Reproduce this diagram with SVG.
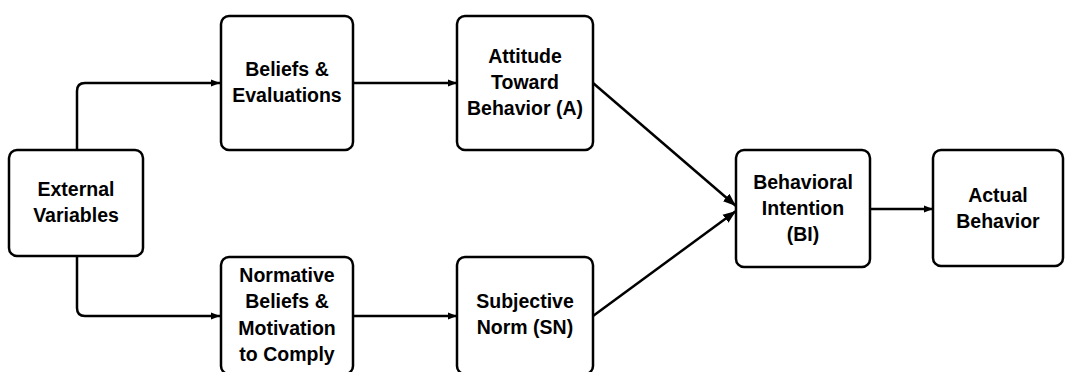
<svg xmlns="http://www.w3.org/2000/svg" width="1066" height="372" viewBox="0 0 1066 372">
  <style>
    .box { fill: #ffffff; stroke: #000000; stroke-width: 2.5; }
    .lbl { font-family: "Liberation Sans", Arial, Helvetica, sans-serif; font-size: 19.5px; font-weight: bold; fill: #000000; text-anchor: middle; }
    .edge { fill: none; stroke: #000000; stroke-width: 2.5; }
    .small { marker-end: url(#arrowSmall); }
    .big { marker-end: url(#arrowBig); }
  </style>
  <defs>
    <marker id="arrowSmall" markerUnits="userSpaceOnUse" markerWidth="10" markerHeight="8" refX="9" refY="4" orient="auto">
      <path d="M0,0.5 L9,4 L0,7.5 Z" fill="#000000"/>
    </marker>
    <marker id="arrowBig" markerUnits="userSpaceOnUse" markerWidth="14" markerHeight="11" refX="13" refY="5.5" orient="auto">
      <path d="M0,0.5 L13,5.5 L0,10.5 Z" fill="#000000"/>
    </marker>
  </defs>

  <rect width="1066" height="372" fill="#ffffff"/>

  <!-- connectors -->
  <g id="connectors">
    <path class="edge small" d="M77,150 V91 Q77,83 85,83 H220"/>
    <path class="edge small" d="M77,256 V308 Q77,316 85,316 H220"/>
    <path class="edge small" d="M353,83 H457"/>
    <path class="edge small" d="M353,316 H457"/>
    <path class="edge big" d="M593,83 L736,206"/>
    <path class="edge big" d="M593,316 L736,211"/>
    <path class="edge small" d="M870,209 H933"/>
  </g>

  <g id="external-variables">
    <rect class="box" x="9" y="150" width="134" height="106" rx="8"/>
    <text class="lbl" x="76" y="196">External</text>
    <text class="lbl" x="76" y="222">Variables</text>
  </g>

  <g id="beliefs-evaluations">
    <rect class="box" x="221" y="16" width="132" height="134" rx="8"/>
    <text class="lbl" x="287" y="76">Beliefs &amp;</text>
    <text class="lbl" x="287" y="102">Evaluations</text>
  </g>

  <g id="normative-beliefs">
    <rect class="box" x="221" y="257" width="132" height="117" rx="8"/>
    <text class="lbl" x="287" y="282">Normative</text>
    <text class="lbl" x="287" y="308">Beliefs &amp;</text>
    <text class="lbl" x="287" y="335">Motivation</text>
    <text class="lbl" x="287" y="361">to Comply</text>
  </g>

  <g id="attitude">
    <rect class="box" x="457" y="16" width="136" height="134" rx="8"/>
    <text class="lbl" x="525" y="63">Attitude</text>
    <text class="lbl" x="525" y="89">Toward</text>
    <text class="lbl" x="525" y="115">Behavior (A)</text>
  </g>

  <g id="subjective-norm">
    <rect class="box" x="457" y="257" width="136" height="117" rx="8"/>
    <text class="lbl" x="525" y="308">Subjective</text>
    <text class="lbl" x="525" y="334">Norm (SN)</text>
  </g>

  <g id="behavioral-intention">
    <rect class="box" x="736" y="150" width="134" height="117" rx="8"/>
    <text class="lbl" x="803" y="189">Behavioral</text>
    <text class="lbl" x="803" y="215">Intention</text>
    <text class="lbl" x="803" y="241">(BI)</text>
  </g>

  <g id="actual-behavior">
    <rect class="box" x="933" y="150" width="130" height="116" rx="8"/>
    <text class="lbl" x="998" y="202">Actual</text>
    <text class="lbl" x="998" y="228">Behavior</text>
  </g>
</svg>
